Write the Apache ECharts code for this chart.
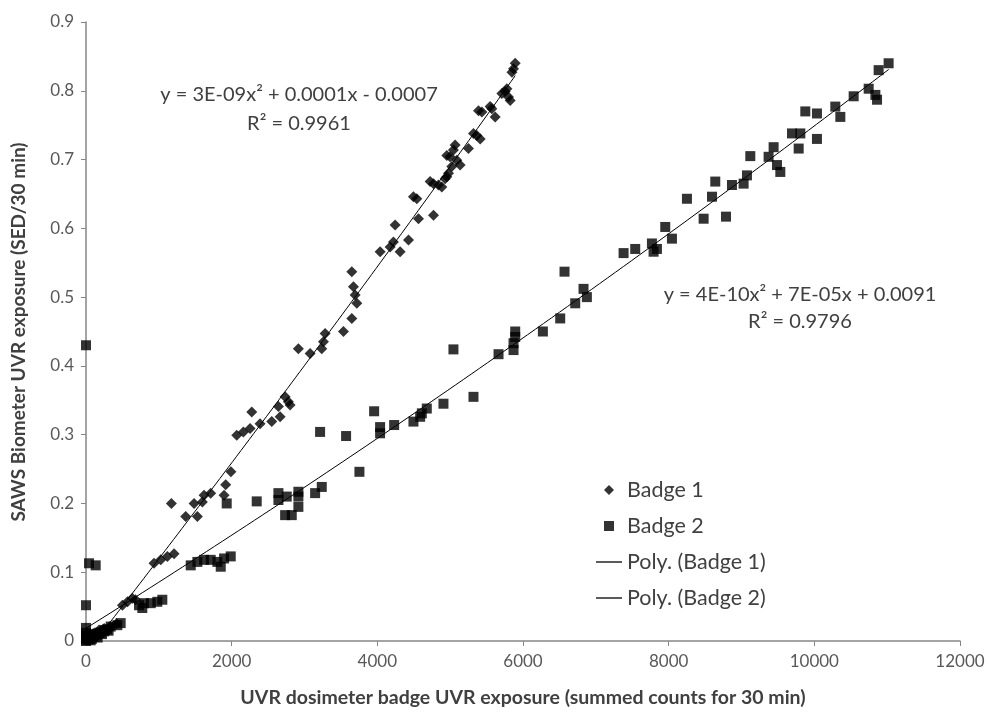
<!DOCTYPE html>
<html><head><meta charset="utf-8">
<script src="https://cdn.jsdelivr.net/npm/echarts@6/dist/echarts.min.js"></script>
<style>html,body{margin:0;padding:0;background:#fff}#c{width:989px;height:714px}</style>
</head><body><div id="c"></div>
<script>
const badge1 = [
[100,0.011],[180,0.016],[250,0.018],[330,0.021],[420,0.025],
[500,0.052],[570,0.057],[636,0.062],[680,0.060],
[934,0.113],[1026,0.118],[1117,0.123],[1209,0.127],
[1172,0.200],
[1369,0.181],[1529,0.181],[1484,0.200],[1598,0.202],[1621,0.212],[1712,0.215],[1896,0.212],[1918,0.227],[1990,0.246],
[2070,0.299],[2161,0.304],[2253,0.309],[2276,0.333],[2390,0.316],[2550,0.319],
[2642,0.341],[2665,0.326],[2734,0.355],[2779,0.348],[2802,0.343],
[2916,0.425],[3077,0.418],[3237,0.425],[3260,0.435],[3283,0.447],
[3535,0.450],[3650,0.469],[3650,0.537],[3672,0.515],[3695,0.503],[3718,0.491],
[4038,0.566],[4176,0.573],[4221,0.580],[4313,0.566],[4428,0.583],[4244,0.605],
[4565,0.614],[4771,0.619],[4496,0.646],[4542,0.643],
[4725,0.668],[4771,0.665],[4839,0.663],[4885,0.660],
[4931,0.672],[4954,0.675],[4977,0.680],
[4954,0.706],[4999,0.704],[5023,0.690],[5045,0.714],[5068,0.721],[5091,0.699],[5137,0.692],
[5251,0.716],[5320,0.738],[5366,0.735],[5412,0.730],
[5389,0.771],[5435,0.769],[5549,0.777],[5572,0.774],[5618,0.762],
[5710,0.796],[5755,0.799],[5779,0.803],[5801,0.791],[5824,0.786],
[5848,0.827],[5870,0.832],[5893,0.840]
];
const badge2 = [
[0,0.430],[0,0.052],[0,0.019],[0,0.012],[0,0.006],[0,0.002],[0,0.000],[0,0.004],[0,0.008],
[20,0.002],[30,0.004],[40,0.006],[64,0.001],[80,0.003],[41,0.113],[133,0.110],
[60,0.010],[100,0.006],[120,0.008],[150,0.009],[160,0.005],[180,0.012],[200,0.012],[220,0.010],
[250,0.014],[260,0.016],[290,0.017],[310,0.015],
[339,0.021],[430,0.023],[476,0.026],
[728,0.052],[773,0.048],[797,0.055],[889,0.055],[979,0.057],[1048,0.060],
[1438,0.110],[1529,0.115],[1621,0.118],[1712,0.118],[1804,0.115],[1850,0.108],[1896,0.120],[1987,0.123],
[1932,0.200],[2344,0.203],
[2642,0.215],[2642,0.205],[2756,0.210],[2916,0.217],[2916,0.210],[2734,0.183],[2825,0.183],[2916,0.195],
[3146,0.215],[3237,0.224],[3214,0.304],[3571,0.298],[3754,0.246],[3956,0.334],[4038,0.311],[4038,0.302],[4231,0.314],
[4496,0.319],[4588,0.326],[4611,0.331],[4679,0.338],[4908,0.345],[5320,0.355],
[5045,0.424],[5664,0.417],[5870,0.423],[5870,0.433],[5893,0.442],[5893,0.450],
[6273,0.450],[6511,0.469],[6570,0.537],[6717,0.491],[6831,0.512],[6877,0.500],
[7381,0.564],[7541,0.570],[7770,0.578],[7793,0.566],[7839,0.570],[7953,0.602],[8045,0.585],
[8251,0.643],[8480,0.614],[8595,0.646],[8640,0.668],[8787,0.617],
[8869,0.663],[9029,0.665],[9075,0.677],[9121,0.705],
[9372,0.704],[9441,0.718],[9487,0.692],[9533,0.682],
[9693,0.738],[9808,0.738],[9785,0.716],
[9876,0.770],[10036,0.767],[10036,0.730],
[10288,0.777],[10357,0.762],[10540,0.792],
[10746,0.803],[10838,0.794],[10861,0.787],[10883,0.830],[11020,0.840]
];
const seriesNames = ['Badge 1','Badge 2','Poly. (Badge 1)','Poly. (Badge 2)'];
const eq1 = ['y = 3E-09x² + 0.0001x - 0.0007','R² = 0.9961'];
const eq2 = ['y = 4E-10x² + 7E-05x + 0.0091','R² = 0.9796'];
const xTitle = 'UVR dosimeter badge UVR exposure (summed counts for 30 min)';
const yTitle = 'SAWS Biometer UVR exposure (SED/30 min)';

// least-squares quadratic trendline (as Excel's Poly. order 2)
function polyFit(pts){
  let s=[0,0,0,0,0], t=[0,0,0];
  pts.forEach(([x,y])=>{const u=x/1000;let p=1;for(let k=0;k<5;k++){s[k]+=p;if(k<3)t[k]+=p*y;p*=u;}});
  const A=[[s[0],s[1],s[2],t[0]],[s[1],s[2],s[3],t[1]],[s[2],s[3],s[4],t[2]]];
  for(let i=0;i<3;i++){for(let j=i+1;j<3;j++){const f=A[j][i]/A[i][i];for(let k=i;k<4;k++)A[j][k]-=f*A[i][k];}}
  const c=[0,0,0];
  for(let i=2;i>=0;i--){let v=A[i][3];for(let k=i+1;k<3;k++)v-=A[i][k]*c[k];c[i]=v/A[i][i];}
  const xs=pts.map(p=>p[0]);const lo=Math.min(...xs),hi=Math.max(...xs);
  const out=[];for(let i=0;i<=100;i++){const x=lo+(hi-lo)*i/100,u=x/1000;out.push([x,c[0]+c[1]*u+c[2]*u*u]);}
  return out;
}

const FONT='Lato';
const chart = echarts.init(document.getElementById('c'));
chart.setOption({
  animation:false,
  textStyle:{fontFamily:FONT},
  grid:{left:86,right:29,top:22,bottom:73},
  xAxis:{type:'value',min:0,max:12000,interval:2000,
    axisLine:{show:true,lineStyle:{color:'#868686',width:1.5}},
    axisTick:{show:true,length:5,lineStyle:{color:'#868686'}},
    splitLine:{show:false},
    axisLabel:{color:'#595959',fontSize:17,margin:12,formatter:v=>String(v)},
    name:xTitle,nameLocation:'middle',nameGap:47,
    nameTextStyle:{fontSize:19.5,fontWeight:'bold',color:'#404040',fontFamily:FONT}},
  yAxis:{type:'value',min:0,max:0.9,interval:0.1,
    axisLine:{show:true,lineStyle:{color:'#868686',width:1.5}},
    axisTick:{show:true,length:5,lineStyle:{color:'#868686'}},
    splitLine:{show:false},
    axisLabel:{color:'#595959',fontSize:17,margin:12,formatter:v=>String(Math.round(v*10)/10)}},
  legend:{orient:'vertical',left:591,top:473,itemWidth:26,itemHeight:10,itemGap:12,
    textStyle:{fontSize:21.5,color:'#404040',lineHeight:24},
    data:[
      {name:seriesNames[0],icon:'path://M5,0L10,5L5,10L0,5Z'},
      {name:seriesNames[1],icon:'path://M0,0L10,0L10,10L0,10Z'},
      {name:seriesNames[2],icon:'path://M0,0L26,0L26,1.3L0,1.3Z'},
      {name:seriesNames[3],icon:'path://M0,0L26,0L26,1.3L0,1.3Z'}
    ]},
  graphic:[
    {type:'text',style:{text:yTitle,font:'bold 19px '+FONT,fill:'#404040',align:'center',verticalAlign:'middle'},x:19,y:332,rotation:Math.PI/2},
    {type:'text',style:{text:eq1.join('\n'),font:'20px '+FONT,fill:'#404040',align:'center',verticalAlign:'top',lineHeight:29},x:299,y:80},
    {type:'text',style:{text:eq2.join('\n'),font:'20px '+FONT,fill:'#404040',align:'center',verticalAlign:'top',lineHeight:27},x:800,y:281}
  ],
  series:[
    {name:seriesNames[0],type:'scatter',symbol:'diamond',symbolSize:11,itemStyle:{color:'#000'},data:badge1,z:3},
    {name:seriesNames[1],type:'scatter',symbol:'rect',symbolSize:10,itemStyle:{color:'#000'},data:badge2,z:3},
    {name:seriesNames[2],type:'line',symbol:'none',showSymbol:false,lineStyle:{color:'#000',width:1},itemStyle:{color:'#000'},data:polyFit(badge1),z:4},
    {name:seriesNames[3],type:'line',symbol:'none',showSymbol:false,lineStyle:{color:'#000',width:1},itemStyle:{color:'#000'},data:polyFit(badge2),z:4}
  ]
});
</script></body></html>
